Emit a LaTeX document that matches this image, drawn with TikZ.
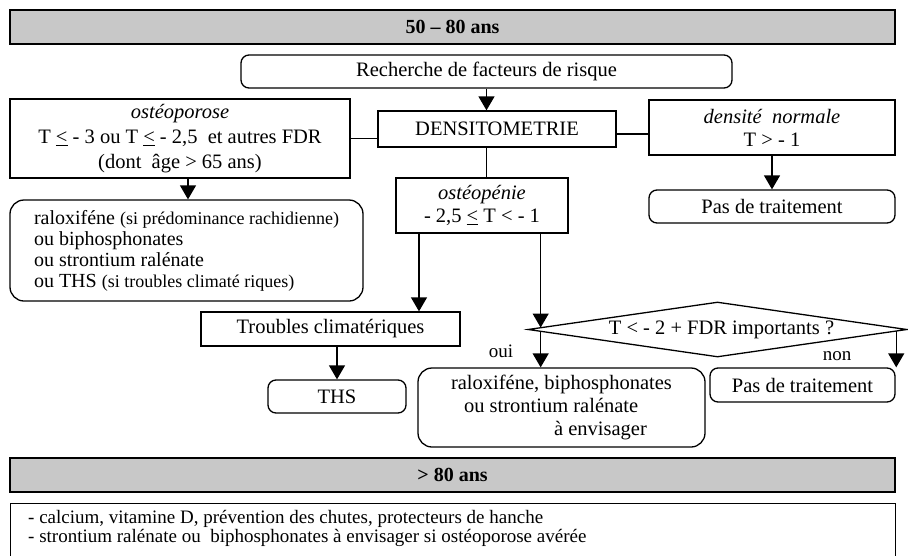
\documentclass[tikz,border=0pt]{standalone}
\usepackage{fontspec}
\setmainfont{Liberation Serif}
\usepackage{xcolor}
\usepackage{tikz}
\usetikzlibrary{arrows.meta, positioning, shapes.geometric, calc}
\definecolor{barGray}{RGB}{200,200,200}
\newcommand{\parenTxt}[1]{{\fontsize{18}{21}\selectfont #1}}
\newcommand{\leqTxt}{\underline{<}}

\begin{document}
\begin{tikzpicture}[
    x=1pt, y=-1pt,
    font=\fontsize{20.5}{23}\selectfont,
    box/.style={draw, line width=1.3pt, rectangle, inner sep=2pt, align=center},
    roundBox/.style={box, rounded corners=8pt},
    bigRound/.style={box, rounded corners=14pt},
    ageBar/.style={draw, line width=1.3pt, fill=barGray, minimum width=885pt, minimum height=34pt, font=\fontsize{20}{23}\selectfont\bfseries},
    decision/.style={draw, line width=1.3pt, diamond, inner sep=0pt, minimum width=379pt, minimum height=55pt},
    answer/.style={font=\fontsize{19}{21}\selectfont},
    line/.style={draw, line width=1.3pt},
    arrow/.style={line, -{Triangle[length=14pt, width=16pt]}}
]
    \clip (0,0) rectangle (908,555);

    % Nodes
    \node[ageBar] (bar5080) at (452.5,27) {50 -- 80 ans};
    \node[roundBox, minimum width=491pt, minimum height=33pt] (recherche) at (486.5,71.5) {Recherche de facteurs de risque};
    \node[box, minimum width=340pt, minimum height=79pt, font=\fontsize{20.5}{25}\selectfont] (osteoporose) at (180,138.5) {\textit{ostéoporose}\\T \leqTxt{} - 3 ou T \leqTxt{} - 2,5~ et autres FDR\\(dont~ âge > 65 ans)};
    \node[box, minimum width=238pt, minimum height=36pt] (densito) at (497,129) {DENSITOMETRIE};
    \node[box, minimum width=246pt, minimum height=55pt] (normale) at (772,127.5) {\textit{densité~ normale}\\T > - 1};
    \node[roundBox, minimum width=246pt, minimum height=33pt] (pasTraitA) at (772,206.5) {Pas de traitement};
    \node[bigRound, minimum width=353pt, minimum height=101pt, align=left, font=\fontsize{20}{21}\selectfont] (raloxA) at (186.5,250.5) {raloxiféne \parenTxt{(si prédominance rachidienne)}\\ou biphosphonates\\ou strontium ralénate\\ou THS \parenTxt{(si troubles climaté riques)}};
    \node[box, minimum width=172pt, minimum height=55pt] (osteopenie) at (482,205.5) {\textit{ostéopénie}\\- 2,5 \leqTxt{} T < - 1};
    \node[box, minimum width=259pt, minimum height=34pt] (troubles) at (330.5,329) {Troubles climatériques};
    \node[roundBox, minimum width=138pt, minimum height=33pt] (ths) at (337,396.5) {THS};
    \node[decision] (fdrTest) at (717.5,329.5) {};
    \node (fdrText) at ([xshift=4pt]fdrTest.center) {T < - 2 + FDR importants ?};
    \node[bigRound, minimum width=287pt, minimum height=79pt, align=left] (raloxB) at (561.5,407.5) {raloxiféne, biphosphonates\\\hspace*{13pt}ou strontium ralénate\\\hspace*{103pt}à envisager};
    \node[roundBox, minimum width=185pt, minimum height=34pt] (pasTraitB) at (802.5,385) {Pas de traitement};
    \node[answer] (oui) at (501,351) {oui};
    \node[answer] (non) at (837,356) {non};
    \node[ageBar] (bar80) at (452.5,475) {> 80 ans};
    \node[box, anchor=north west, minimum width=885pt, minimum height=70pt] (conseils) at (10,503) {};
    \node[anchor=north west, align=left, inner sep=0pt, font=\fontsize{19}{19.5}\selectfont] (conseilsTxt) at (28,510) {- calcium, vitamine D, prévention des chutes, protecteurs de hanche\\- strontium ralénate ou~ biphosphonates à envisager si ostéoporose avérée};

    % Connections
    \coordinate (ouiIn) at ($(fdrTest.west)!0.07!(fdrTest.north)$);
    \coordinate (ouiOut) at ($(fdrTest.west)!0.07!(fdrTest.south)$);
    \coordinate (nonOut) at ($(fdrTest.east)!0.06!(fdrTest.south)$);
    \draw[arrow] (recherche.south) -- (recherche.south |- densito.north);
    \draw[line] (osteoporose.east) -- (osteoporose.east -| densito.west);
    \draw[line] ([yshift=-5pt]densito.east) -- ([yshift=-5pt]densito.east -| normale.west);
    \draw[line] (densito.south -| recherche.south) -- (osteopenie.north -| recherche.south);
    \draw[arrow] ([xshift=8pt]osteoporose.south) -- ([xshift=8pt]osteoporose.south |- raloxA.north);
    \draw[arrow] (normale.south) -- (pasTraitA.north);
    \draw[arrow] ([xshift=-63pt]osteopenie.south) -- ([xshift=-63pt]osteopenie.south |- troubles.north);
    \draw[arrow] (osteopenie.south -| ouiIn) -- (ouiIn);
    \draw[arrow] (troubles.south -| ths.north) -- (ths.north);
    \draw[arrow] (ouiOut) -- (ouiOut |- raloxB.north);
    \draw[arrow] (nonOut) -- (nonOut |- pasTraitB.north);

\end{tikzpicture}
\end{document}
